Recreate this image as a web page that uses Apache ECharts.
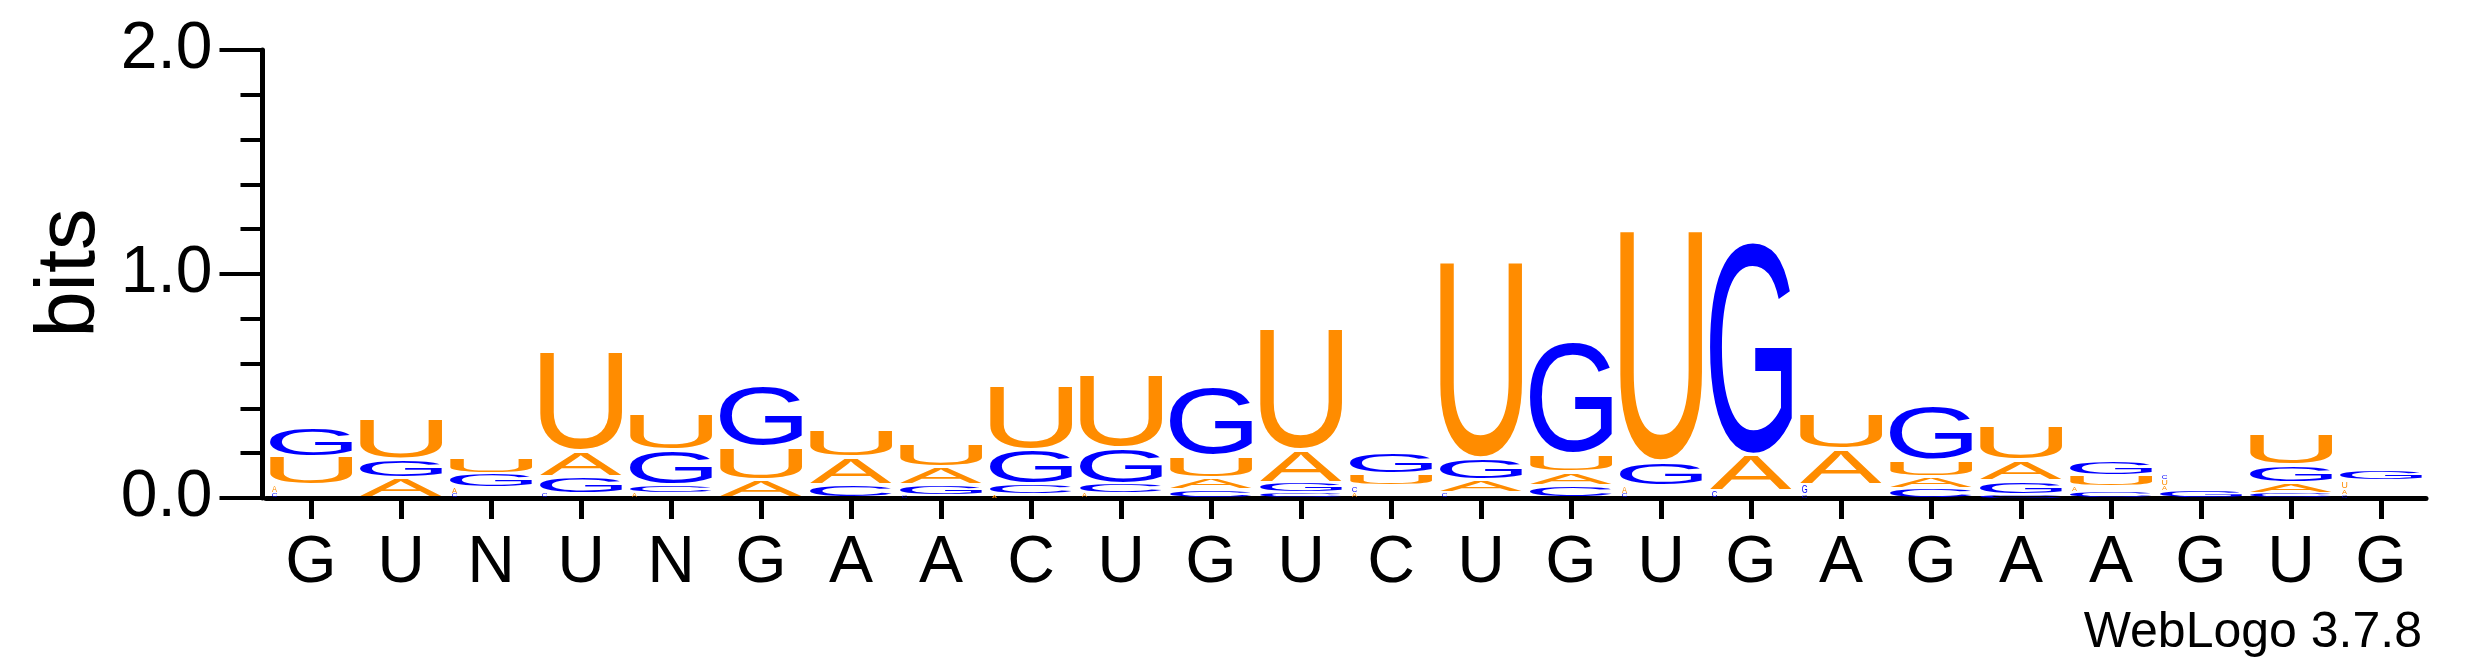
<!DOCTYPE html>
<html>
<head>
<meta charset="utf-8">
<title>WebLogo</title>
<script src="https://cdn.jsdelivr.net/npm/echarts@6.0.0/dist/echarts.min.js"></script>
<style>
  html, body { margin: 0; padding: 0; background: #fff; }
  #logo { width: 2475px; height: 667px; }
</style>
</head>
<body>
<div id="logo"></div>
<script>
// consensus letter under each position
var seqLabels = ['G','U','N','U','N','G','A','A','C','U','G','U','C','U','G','U','G','A','G','A','A','G','U','G'];

// letters of each stack, bottom to top (lower case = glyph drawn as a narrow sliver)
var stackLetters = [
    'caUG', 'AGU', 'caGU', 'cGAU', 'aCGU', 'AUG', 'CAU', 'cGAU',
    'aCGU', 'aCGU', 'CAUG', 'CGAU', 'acUG', 'cAGU', 'CAUG', 'caGU',
    'cAG', 'cgAU', 'CAUG', 'CGAU', 'CaUG', 'Gauc', 'CAGU', 'cauG'
];

// height in bits of each letter above, same order
var stackBits = [
    [0.020, 0.037, 0.128, 0.130],
    [0.088, 0.084, 0.180],
    [0.020, 0.026, 0.064, 0.069],
    [0.020, 0.076, 0.112, 0.445],
    [0.020, 0.038, 0.154, 0.166],
    [0.081, 0.149, 0.270],
    [0.060, 0.122, 0.121],
    [0.012, 0.046, 0.081, 0.104],
    [0.015, 0.048, 0.154, 0.288],
    [0.020, 0.043, 0.162, 0.328],
    [0.037, 0.055, 0.096, 0.309],
    [0.025, 0.045, 0.146, 0.543],
    [0.024, 0.030, 0.052, 0.097],
    [0.025, 0.058, 0.096, 0.878],
    [0.057, 0.058, 0.080, 0.503],
    [0.020, 0.035, 0.110, 1.031],
    [0.034, 0.161, 0.951],
    [0.015, 0.045, 0.157, 0.161],
    [0.042, 0.053, 0.072, 0.245],
    [0.016, 0.062, 0.091, 0.153],
    [0.030, 0.020, 0.050, 0.066],
    [0.035, 0.018, 0.030, 0.020],
    [0.020, 0.048, 0.081, 0.142],
    [0.016, 0.022, 0.040, 0.046]
];

var yTicks = [0, 1, 2];

var LETTERS = ['A', 'C', 'G', 'U'];
var letterColor = { A: '#FF8C00', U: '#FF8C00', G: '#0000FF', C: '#0000FF' };
var FONT_FAMILY = '"Liberation Sans", Arial, Helvetica, sans-serif';
var GLYPH_FONT = '200px "Liberation Sans", Arial, sans-serif';

// ink box of each glyph, relative to a left/middle anchored text
var measureCtx = document.createElement('canvas').getContext('2d');
measureCtx.font = GLYPH_FONT;
measureCtx.textAlign = 'left';
measureCtx.textBaseline = 'middle';
var glyphBox = {};
LETTERS.forEach(function (ch) {
    var m = measureCtx.measureText(ch);
    glyphBox[ch] = {
        l: m.actualBoundingBoxLeft, r: m.actualBoundingBoxRight,
        a: m.actualBoundingBoxAscent, d: m.actualBoundingBoxDescent
    };
});

// flatten the stacks into [position, bottom, top, letter, narrow]
var letterData = [];
stackLetters.forEach(function (letters, i) {
    var y0 = 0;
    for (var k = 0; k < letters.length; k++) {
        var ch = letters.charAt(k);
        var up = ch.toUpperCase();
        var h = stackBits[i][k];
        letterData.push([i, y0, y0 + h, LETTERS.indexOf(up), ch === up ? 0 : 1]);
        y0 += h;
    }
});

function renderLetter(params, api) {
    var i = api.value(0);
    var ch = LETTERS[api.value(3)];
    var narrow = api.value(4);
    var bottom = api.coord([i, api.value(1)]);
    var top = api.coord([i, api.value(2)]);
    var band = api.size([1, 0])[0];
    var full = band * 0.91;
    var x0 = bottom[0] - full / 2;
    var w = full;
    if (narrow) { x0 += 2; w = 5; }
    var h = bottom[1] - top[1];
    var pad = Math.min(1.6, h * 0.12);
    var yTop = top[1] + pad;
    h -= 2 * pad;
    if (h < 0.6) return null;
    var g = glyphBox[ch];
    var sx = w / (g.l + g.r);
    var sy = h / (g.a + g.d);
    return {
        type: 'text',
        x: x0 + g.l * sx,
        y: yTop + g.a * sy,
        scaleX: sx,
        scaleY: sy,
        style: {
            text: ch,
            font: GLYPH_FONT,
            fill: letterColor[ch],
            textAlign: 'left',
            textVerticalAlign: 'middle'
        }
    };
}

var chart = echarts.init(document.getElementById('logo'), null, { renderer: 'canvas' });

chart.setOption({
    animation: false,
    backgroundColor: '#fff',
    grid: { left: 266, right: 49, top: 50, bottom: 169, containLabel: false, outerBoundsMode: 'none' },
    xAxis: {
        type: 'category',
        data: seqLabels,
        offset: 2.5,
        axisLine: { show: true, lineStyle: { color: '#000', width: 5 } },
        axisTick: { show: true, alignWithLabel: true, length: 21, lineStyle: { color: '#000', width: 5 } },
        axisLabel: { interval: 0, margin: 30, fontSize: 66, color: '#000', fontFamily: FONT_FAMILY },
        splitLine: { show: false }
    },
    yAxis: {
        type: 'value',
        min: yTicks[0],
        max: yTicks[yTicks.length - 1],
        interval: 1,
        offset: 3.5,
        axisLine: { show: true, lineStyle: { color: '#000', width: 5 } },
        axisTick: { show: true, length: 43, lineStyle: { color: '#000', width: 4 } },
        minorTick: { show: true, splitNumber: 5, length: 22, lineStyle: { color: '#000', width: 4 } },
        splitLine: { show: false },
        minorSplitLine: { show: false },
        axisLabel: {
            margin: 50, fontSize: 66, color: '#000', fontFamily: FONT_FAMILY,
            formatter: function (v) { return v.toFixed(1); }
        }
    },
    graphic: [
        {
            type: 'text', x: 71, y: 273, rotation: Math.PI / 2,
            style: { text: 'bits', font: '83px ' + FONT_FAMILY, fill: '#000', textAlign: 'center', textVerticalAlign: 'middle' }
        },
        {
            type: 'text', x: 2422, y: 633,
            style: { text: 'WebLogo 3.7.8', font: '50px ' + FONT_FAMILY, fill: '#000', textAlign: 'right', textVerticalAlign: 'middle' }
        }
    ],
    series: [{
        type: 'custom',
        renderItem: renderLetter,
        encode: { x: 0, y: [1, 2] },
        data: letterData,
        clip: false,
        silent: true
    }]
});
</script>
</body>
</html>
